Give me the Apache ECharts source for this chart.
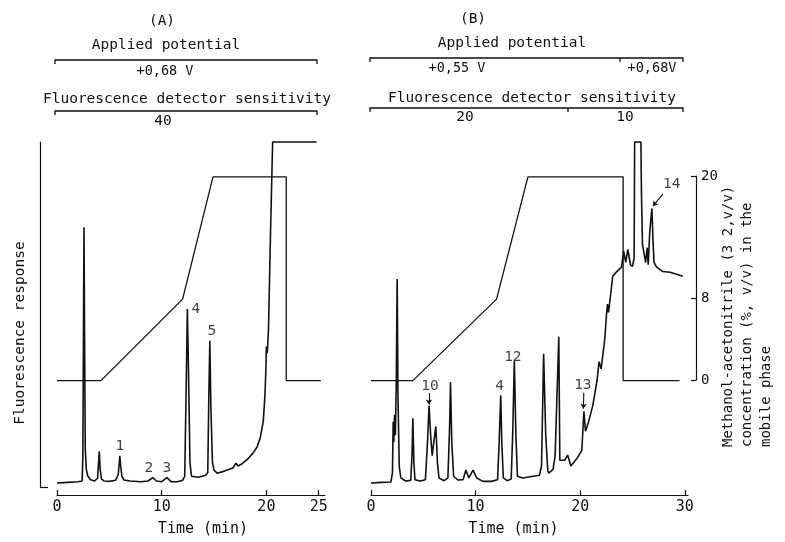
<!DOCTYPE html>
<html><head><meta charset="utf-8">
<script src="https://cdn.jsdelivr.net/npm/echarts@6/dist/echarts.min.js"></script>
<style>html,body{margin:0;padding:0;background:#fff}#c{width:785px;height:542px}</style>
</head><body><div id="c"></div>
<script>
const FONT = '"DejaVu Sans Mono", monospace';
const INK = '#111111';

// tick labels
const timeTicksA = [0, 10, 20, 25];
const timeTicksB = [0, 10, 20, 30];
const gradTicks = [0, 8, 20];

// chromatogram A: [time (min), fluorescence response (a.u., 100 = full scale)]
const chromA = [[0,0],[1.0,0.2],[2.0,0.4],[2.4,0.6],[2.47,8],[2.53,45],[2.58,75],[2.63,45],[2.7,10],[2.8,4],[2.95,2],[3.2,1],[3.6,0.6],[3.88,1.5],[3.97,6],[4.04,9.3],[4.12,4],[4.25,1.2],[4.5,0.6],[5.0,0.5],[5.6,0.8],[5.85,2.5],[5.95,6],[6.0,8],[6.08,5],[6.2,2],[6.4,0.9],[7.0,0.6],[8.0,0.4],[8.7,0.6],[9.15,1.6],[9.5,0.6],[10.0,0.4],[10.5,1.6],[10.9,0.4],[11.5,0.4],[12.0,0.8],[12.2,2],[12.35,30],[12.45,51],[12.55,35],[12.7,6],[12.85,2],[13.5,1.7],[14.2,2.3],[14.4,3],[14.5,25],[14.6,41.7],[14.7,22],[14.85,6],[15.0,3.8],[15.3,2.9],[16.0,3.5],[16.8,4.4],[17.1,5.8],[17.3,5.0],[17.6,5.5],[18.2,7],[18.7,8.7],[19.1,10.5],[19.4,13.1],[19.7,18],[19.85,25],[19.95,33],[20.0,40],[20.05,38],[20.1,38.8],[20.2,45],[20.4,74],[20.6,100],[24.8,100]];

// chromatogram B
const chromB = [[0,0],[1.0,0.2],[1.9,0.3],[2.05,3],[2.12,18],[2.18,12],[2.25,20],[2.33,14],[2.42,30],[2.5,59.8],[2.58,25],[2.7,5],[2.85,1.5],[3.3,0.6],[3.8,0.8],[3.92,8],[4.0,19],[4.1,6],[4.2,1],[4.7,0.6],[5.2,1],[5.4,12],[5.55,22.7],[5.7,14],[5.85,8],[6.0,12],[6.2,16.6],[6.35,6],[6.5,1.5],[7.0,0.7],[7.35,1.5],[7.5,15],[7.6,29.6],[7.72,12],[7.9,2],[8.3,0.9],[8.8,1],[9.07,3.8],[9.35,1.5],[9.75,3.8],[10.1,1.5],[10.7,0.5],[11.5,0.5],[12.1,1],[12.25,12],[12.4,25.7],[12.5,12],[12.65,1.5],[13.0,0.7],[13.4,1.2],[13.55,15],[13.7,35.9],[13.85,14],[14.0,2],[14.5,1.5],[15.5,2],[16.1,2.3],[16.3,5],[16.5,37.9],[16.7,14],[16.9,3.5],[17.0,2.9],[17.4,4],[17.6,8],[17.95,42.9],[18.05,6.7],[18.5,6.7],[18.8,8.2],[19.1,5],[19.7,7.3],[20.15,9.6],[20.35,21],[20.5,15.2],[20.8,18],[21.2,22.7],[21.6,30],[21.8,35.6],[22.0,33.5],[22.35,42.3],[22.5,49],[22.6,52.5],[22.7,50],[23.0,57.7],[23.1,60.6],[23.5,62],[23.95,63.3],[24.15,68],[24.35,64.7],[24.55,68.5],[24.8,64],[25.0,63.5],[25.15,66],[25.2,100],[25.8,100],[25.85,85],[25.95,70],[26.1,70],[26.25,64.7],[26.4,69],[26.5,64],[26.65,74],[26.85,80.5],[26.95,71.4],[27.05,64.7],[27.3,63.3],[27.9,62],[28.6,61.8],[29.2,61.2],[29.8,60.6]];

// mobile-phase gradient: [time (min), % methanol-acetonitrile]
const gradA = [[0,0],[4.2,0],[12.0,8],[14.9,20],[21.9,20],[21.9,0],[25.2,0]];
const gradB = [[0,0],[4.0,0],[12.0,8],[15.0,20],[24.1,20],[24.1,0],[29.5,0]];

// peak labels: [time, response, text]
const labelsA = [[6.01,10.8,'1'],[8.78,4.4,'2'],[10.5,4.4,'3'],[13.26,51,'4'],[14.79,44.6,'5']];
const labelsB = [[5.63,28.3,'10'],[12.3,28.3,'4'],[13.56,37,'12'],[20.25,28.6,'13'],[28.75,87.5,'14']];
const arrowsB = [[[5.54,26.4],[5.54,23.0]],[[20.34,26.5],[20.3,21.8]],[[27.9,84.8],[26.95,81.2]]];

const chart = echarts.init(document.getElementById('c'), null, {renderer:'canvas'});

const hiddenY = (min, max, grid) => ({type:'value', gridIndex:grid, min, max, show:false, splitLine:{show:false}});
const timeAxis = (grid, max, ticks, pad) => ({
  type:'value', gridIndex:grid, min:0, max,
  axisLine:{show:true, onZero:false, lineStyle:{color:INK, width:1.2}},
  axisTick:{show:true, inside:true, length:5, customValues:ticks, lineStyle:{color:INK, width:1.2}},
  axisLabel:{show:true, customValues:ticks, color:INK, fontFamily:FONT, fontSize:15, margin:5},
  splitLine:{show:false},
  name:'Time (min)', nameLocation:'middle', nameGap:27,
  nameTextStyle:{color:INK, fontFamily:FONT, fontSize:15, padding:pad}
});

const lineStyle = w => ({color:INK, width:w});
const textG = (x, y, t, size) => ({type:'text', x, y, style:{text:t, fill:INK, font:(size||14.5)+'px '+FONT, align:'center', verticalAlign:'middle'}});
const bracket = pts => ({type:'polyline', shape:{points:pts}, style:{stroke:INK, lineWidth:1.3, fill:null}});

chart.setOption({
  animation:false,
  backgroundColor:'#fff',
  grid:[
    {left:57, top:135, width:268, height:362},
    {left:371, top:135, width:317, height:362},
    {left:40, top:142, width:1, height:345},
    {left:696, top:176, width:1, height:204}
  ],
  xAxis:[
    timeAxis(0, 25.6, timeTicksA, [0,0,0,24]),
    timeAxis(1, 30.3, timeTicksB, [0,32,0,0]),
    {type:'value', gridIndex:2, min:0, max:1, show:false},
    {type:'value', gridIndex:3, min:0, max:1, show:false}
  ],
  yAxis:[
    hiddenY(-3.5, 102.04, 0),
    hiddenY(-11.22, 24.1, 0),
    hiddenY(-3.5, 102.04, 1),
    hiddenY(-11.22, 24.1, 1),
    {type:'value', gridIndex:2, min:0, max:1, position:'left',
     axisLine:{show:true, lineStyle:{color:INK, width:1.2}},
     axisTick:{show:true, inside:true, length:8, customValues:[0], lineStyle:{color:INK, width:1.2}},
     axisLabel:{show:false}, splitLine:{show:false}},
    {type:'value', gridIndex:3, min:0, max:20, position:'right',
     axisLine:{show:true, lineStyle:{color:INK, width:1.2}},
     axisTick:{show:true, inside:true, length:5, customValues:gradTicks, lineStyle:{color:INK, width:1.2}},
     axisLabel:{show:true, customValues:gradTicks, color:INK, fontFamily:FONT, fontSize:14, margin:4},
     splitLine:{show:false}}
  ],
  series:[
    {type:'line', xAxisIndex:0, yAxisIndex:0, data:chromA, symbol:'none', lineStyle:lineStyle(1.6), clip:false},
    {type:'line', xAxisIndex:0, yAxisIndex:1, data:gradA, symbol:'none', lineStyle:lineStyle(1.3), clip:false},
    {type:'line', xAxisIndex:1, yAxisIndex:2, data:chromB, symbol:'none', lineStyle:lineStyle(1.6), clip:false},
    {type:'line', xAxisIndex:1, yAxisIndex:3, data:gradB, symbol:'none', lineStyle:lineStyle(1.3), clip:false},
    {type:'scatter', xAxisIndex:0, yAxisIndex:0, data:labelsA, symbolSize:1, itemStyle:{color:'rgba(0,0,0,0)'},
     label:{show:true, position:'inside', formatter:p=>p.data[2], color:INK, fontFamily:FONT, fontSize:14.5}},
    {type:'scatter', xAxisIndex:1, yAxisIndex:2, data:labelsB, symbolSize:1, itemStyle:{color:'rgba(0,0,0,0)'},
     label:{show:true, position:'inside', formatter:p=>p.data[2], color:INK, fontFamily:FONT, fontSize:14.5}},
    {type:'lines', coordinateSystem:'cartesian2d', xAxisIndex:1, yAxisIndex:2,
     data:arrowsB.map(c=>({coords:c})), symbol:['none','arrow'], symbolSize:5,
     lineStyle:{color:INK, width:1.1, opacity:1}}
  ],
  graphic:[
    textG(162, 21, '(A)'),
    textG(166, 45, 'Applied potential'),
    bracket([[55,64],[55,60],[317,60],[317,64]]),
    textG(165, 71, '+0,68 V', 13.5),
    textG(187, 99, 'Fluorescence detector sensitivity'),
    bracket([[55,115],[55,111],[317,111],[317,115]]),
    textG(163, 121, '40'),
    textG(473, 19, '(B)'),
    textG(512, 43, 'Applied potential'),
    bracket([[370,62],[370,58],[683,58],[683,62]]),
    bracket([[620,58],[620,62]]),
    textG(457, 68, '+0,55 V', 13.5),
    textG(652, 68, '+0,68V', 13.5),
    textG(532, 98, 'Fluorescence detector sensitivity'),
    bracket([[370,112],[370,108],[683,108],[683,112]]),
    bracket([[568,108],[568,112]]),
    textG(465, 117, '20'),
    textG(625, 117, '10'),
    {type:'text', x:20, y:333, rotation:Math.PI/2,
     style:{text:'Fluorescence response', fill:INK, font:'14.5px '+FONT, align:'center', verticalAlign:'middle'}},
    {type:'text', x:719, y:447, rotation:Math.PI/2,
     style:{text:'Methanol-acetonitrile (3 2,v/v)\nconcentration (%, v/v) in the\nmobile phase',
            fill:INK, font:'14px '+FONT, lineHeight:19, align:'left', verticalAlign:'top'}}
  ]
});
</script></body></html>
